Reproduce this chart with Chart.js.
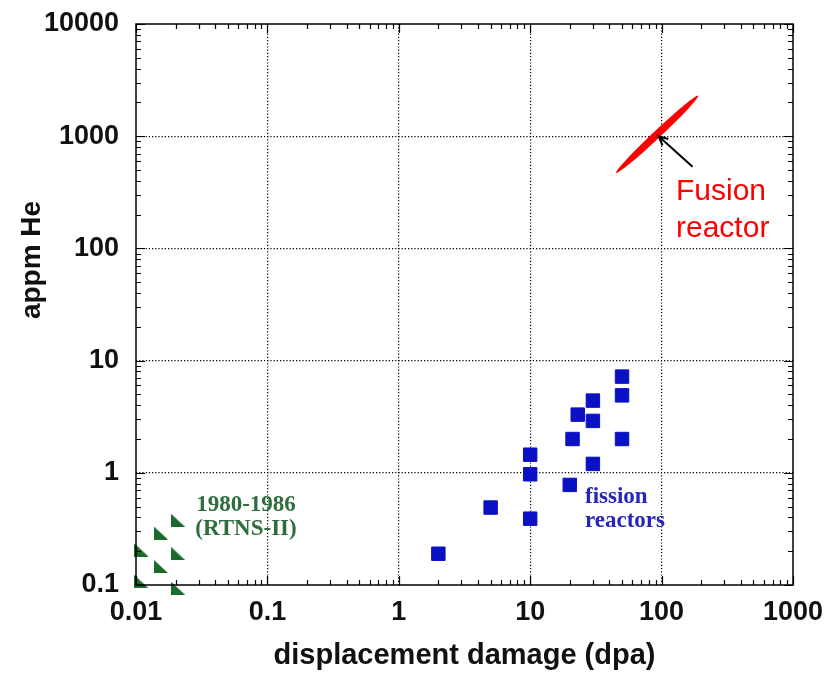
<!DOCTYPE html>
<html>
<head>
<meta charset="utf-8">
<script src="https://cdn.jsdelivr.net/npm/chart.js@4.4.1/dist/chart.umd.min.js"></script>
<style>
  html, body { margin: 0; padding: 0; background: #fff; }
  #wrap { width: 827px; height: 673px; }
</style>
</head>
<body>
<div id="wrap"><canvas id="heChart" width="827" height="673"></canvas></div>
<script>
// axis ticks
const xTicks = [0.01, 0.1, 1, 10, 100, 1000];
const xTickLabels = ['0.01', '0.1', '1', '10', '100', '1000'];
const yTicks = [0.1, 1, 10, 100, 1000, 10000];
const yTickLabels = ['0.1', '1', '10', '100', '1000', '10000'];

// fission reactors (dpa, appm He)
const fissionDpa = [2, 5, 10, 10, 10, 20, 21, 23, 30, 30, 30, 50, 50, 50];
const fissionHe = [0.19, 0.49, 0.39, 0.97, 1.45, 0.78, 2.0, 3.3, 4.4, 2.9, 1.2, 7.2, 4.9, 2.0];

// RTNS-II 1980-1986
const rtnsDpa = [0.021, 0.0155, 0.011, 0.021, 0.0155, 0.011, 0.021];
const rtnsHe = [0.375, 0.29, 0.205, 0.19, 0.146, 0.107, 0.093];

// fusion reactor band (two ends of the ellipse)
const fusionDpa = [45, 190];
const fusionHe = [470, 2300];

// arrow pointing at the fusion band
const arrowFrom = [172, 535];
const arrowTo = [95, 1000];

function makeTriangle(color) {
    const c = document.createElement('canvas');
    c.width = 14;
    c.height = 13;
    const g = c.getContext('2d');
    g.fillStyle = color;
    g.beginPath();
    g.moveTo(0, 0);
    g.lineTo(0, 13);
    g.lineTo(14, 13);
    g.closePath();
    g.fill();
    return c;
}

function toPoints(xs, ys) {
    return xs.map((x, i) => ({ x: x, y: ys[i] }));
}

// frame, inside ticks, fusion ellipse, arrow and text notes
const decorPlugin = {
    id: 'decor',
    afterDatasetsDraw(chart) {
        const ctx = chart.ctx;
        const area = chart.chartArea;
        const xs = chart.scales.x;
        const ys = chart.scales.y;

        ctx.save();
        ctx.strokeStyle = '#000';
        ctx.lineWidth = 1.5;
        ctx.strokeRect(area.left, area.top, area.right - area.left, area.bottom - area.top);

        ctx.lineWidth = 1.2;
        ctx.beginPath();
        // x ticks (bottom + top)
        for (let d = 0; d < xTicks.length; d++) {
            for (let m = 1; m <= 9; m++) {
                const v = xTicks[d] * m;
                if (v > xTicks[xTicks.length - 1]) break;
                const px = Math.round(xs.getPixelForValue(v)) + 0.5;
                const len = m === 1 ? 9 : 5;
                ctx.moveTo(px, area.bottom);
                ctx.lineTo(px, area.bottom - len);
                ctx.moveTo(px, area.top);
                ctx.lineTo(px, area.top + len);
            }
        }
        // y ticks (left + right)
        for (let d = 0; d < yTicks.length; d++) {
            for (let m = 1; m <= 9; m++) {
                const v = yTicks[d] * m;
                if (v > yTicks[yTicks.length - 1]) break;
                const py = Math.round(ys.getPixelForValue(v)) + 0.5;
                const len = m === 1 ? 9 : 5;
                ctx.moveTo(area.left, py);
                ctx.lineTo(area.left + len, py);
                ctx.moveTo(area.right, py);
                ctx.lineTo(area.right - len, py);
            }
        }
        ctx.stroke();

        // fusion ellipse
        const meta = chart.getDatasetMeta(2);
        const p0 = meta.data[0];
        const p1 = meta.data[1];
        const cx = (p0.x + p1.x) / 2;
        const cy = (p0.y + p1.y) / 2;
        const half = Math.hypot(p1.x - p0.x, p1.y - p0.y) / 2;
        const ang = Math.atan2(p1.y - p0.y, p1.x - p0.x);
        ctx.fillStyle = '#ff0000';
        ctx.beginPath();
        ctx.ellipse(cx, cy, half, 3.8, ang, 0, Math.PI * 2);
        ctx.fill();

        // arrow
        const ax0 = xs.getPixelForValue(arrowFrom[0]);
        const ay0 = ys.getPixelForValue(arrowFrom[1]);
        const ax1 = xs.getPixelForValue(arrowTo[0]);
        const ay1 = ys.getPixelForValue(arrowTo[1]);
        const a = Math.atan2(ay1 - ay0, ax1 - ax0);
        ctx.strokeStyle = '#000';
        ctx.lineWidth = 2;
        ctx.beginPath();
        ctx.moveTo(ax0, ay0);
        ctx.lineTo(ax1, ay1);
        ctx.moveTo(ax1 - 10 * Math.cos(a - 0.45), ay1 - 10 * Math.sin(a - 0.45));
        ctx.lineTo(ax1, ay1);
        ctx.lineTo(ax1 - 10 * Math.cos(a + 0.45), ay1 - 10 * Math.sin(a + 0.45));
        ctx.stroke();

        // notes
        ctx.textBaseline = 'alphabetic';
        ctx.textAlign = 'left';
        ctx.fillStyle = '#ff0000';
        ctx.font = '30px "Liberation Sans", Arial, sans-serif';
        ctx.fillText('Fusion', 676, 200);
        ctx.fillText('reactor', 676, 237);

        ctx.fillStyle = '#2626bc';
        ctx.font = 'bold 23px "Liberation Serif", serif';
        ctx.fillText('fission', 585, 503);
        ctx.fillText('reactors', 585, 527);

        ctx.fillStyle = '#2e6e3c';
        ctx.textAlign = 'center';
        ctx.fillText('1980-1986', 246, 511);
        ctx.fillText('(RTNS-II)', 246, 535);

        // y axis title (sits above the middle in the original)
        ctx.fillStyle = '#111';
        ctx.font = 'bold 28px "Liberation Sans", Arial, sans-serif';
        ctx.translate(40, 260);
        ctx.rotate(-Math.PI / 2);
        ctx.textAlign = 'center';
        ctx.fillText('appm He', 0, 0);
        ctx.restore();
    }
};

const ctx = document.getElementById('heChart').getContext('2d');
const heChart = new Chart(ctx, {
    type: 'scatter',
    data: {
        datasets: [
            {
                label: 'fission reactors',
                data: toPoints(fissionDpa, fissionHe),
                pointStyle: 'rect',
                pointRadius: 9.5,
                backgroundColor: '#0a10c4',
                borderColor: '#0a10c4',
                borderWidth: 1,
                clip: false
            },
            {
                label: 'RTNS-II',
                data: toPoints(rtnsDpa, rtnsHe),
                pointStyle: makeTriangle('#1c6a2c'),
                pointRadius: 7,
                clip: false
            },
            {
                label: 'Fusion reactor',
                data: toPoints(fusionDpa, fusionHe),
                pointRadius: 0,
                showLine: false
            }
        ]
    },
    options: {
        responsive: false,
        animation: false,
        layout: { padding: { top: 24, right: 34, left: 0, bottom: 0 } },
        plugins: {
            legend: { display: false },
            tooltip: { enabled: false }
        },
        scales: {
            x: {
                type: 'logarithmic',
                min: 0.01,
                max: 1000,
                afterBuildTicks: axis => { axis.ticks = xTicks.map(v => ({ value: v })); },
                afterFit: scale => {
                    scale.height = 88;
                    scale.paddingLeft = 0;
                    scale.paddingRight = 0;
                },
                ticks: {
                    color: '#111',
                    padding: 11,
                    maxRotation: 0,
                    autoSkip: false,
                    font: { family: '"Liberation Sans", Arial, sans-serif', size: 27, weight: 'bold' },
                    callback: (value, index) => xTickLabels[index]
                },
                grid: {
                    drawTicks: false,
                    color: c => (c.index === 0 || c.index === xTicks.length - 1) ? 'rgba(0,0,0,0)' : '#000',
                    lineWidth: 1.2
                },
                border: { display: false, dash: [1.2, 2] },
                title: {
                    display: true,
                    text: 'displacement damage (dpa)',
                    color: '#111',
                    padding: { top: 0, bottom: 0 },
                    font: { family: '"Liberation Sans", Arial, sans-serif', size: 29, weight: 'bold' }
                }
            },
            y: {
                type: 'logarithmic',
                min: 0.1,
                max: 10000,
                afterBuildTicks: axis => { axis.ticks = yTicks.map(v => ({ value: v })); },
                afterFit: scale => {
                    scale.width = 136;
                    scale.paddingTop = 0;
                    scale.paddingBottom = 0;
                },
                ticks: {
                    color: '#111',
                    padding: 17,
                    autoSkip: false,
                    font: { family: '"Liberation Sans", Arial, sans-serif', size: 27, weight: 'bold' },
                    callback: (value, index) => yTickLabels[index]
                },
                grid: {
                    drawTicks: false,
                    color: c => (c.index === 0 || c.index === yTicks.length - 1) ? 'rgba(0,0,0,0)' : '#000',
                    lineWidth: 1.2
                },
                border: { display: false, dash: [1.2, 2] }
            }
        }
    },
    plugins: [decorPlugin]
});
</script>
</body>
</html>
